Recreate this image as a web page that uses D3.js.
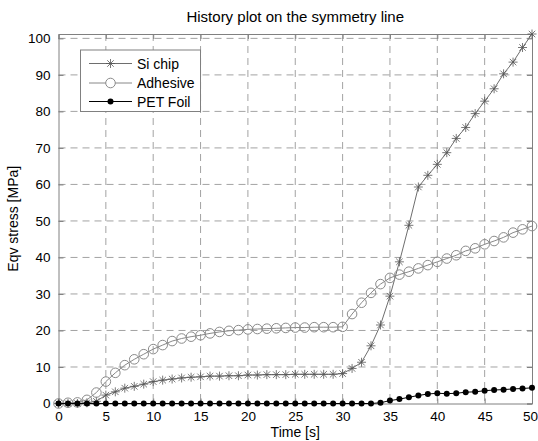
<!DOCTYPE html>
<html><head><meta charset="utf-8">
<script src="https://cdn.jsdelivr.net/npm/d3@7"></script>
<style>body{margin:0;background:#fff}svg{display:block}text{font-family:"Liberation Sans",Arial,sans-serif}</style>
</head><body><svg id="c" width="538" height="441"></svg>
<script>
const time = d3.range(0, 51, 1);
const siChip = [0,0,0,0.2,0.6,2.3,3.2,4.2,4.7,5.3,6.0,6.4,6.7,7.0,7.2,7.3,7.5,7.5,7.6,7.6,7.8,
  7.8,7.9,7.9,7.9,8.0,8.0,8.0,8.0,8.0,8.2,
  9.6,11.3,15.8,21.5,29.4,38.8,48.8,59.3,62.5,65.5,68.7,72.6,75.6,79.4,82.8,86.2,90.3,93.5,97.5,101.2];
const adhesive = [0,0.2,0.3,1.0,3.0,6.0,8.4,10.5,12.1,13.5,14.9,16.0,17.1,17.8,18.3,18.7,19.2,19.6,19.9,20.1,20.3,
  20.4,20.5,20.6,20.7,20.8,20.8,20.9,20.9,20.9,21.0,
  24.5,27.6,30.3,32.7,34.4,35.3,36.1,37.0,37.9,38.8,39.7,40.6,41.8,42.5,43.6,44.5,45.5,46.8,47.7,48.6];
const petFoil = [0,0,0,0,0,0,0,0,0,0,0,0,0,0,0,0,0,0,0,0,0,0,0,0,0,0,0,0,0,0,0,0,0,0,0.2,
  0.8,1.2,1.7,2.2,2.6,2.8,2.7,2.8,3.1,3.2,3.5,3.7,3.8,4.0,4.1,4.3];
const xTicks = d3.range(0, 51, 5);
const yTicks = d3.range(0, 101, 10);
const seriesNames = ["Si chip", "Adhesive", "PET Foil"];
const titleText = "History plot on the symmetry line";
const xLabel = "Time [s]";
const yLabel = "Eqv stress [MPa]";

const FS = "14px", TFS = "13.5px";
const svg = d3.select("#c");
const L = 58.5, R = 532, T = 34, B = 403.5;
const x = d3.scaleLinear().domain([0, 50]).range([L, R]);
const y = d3.scaleLinear().domain([0, 101.2]).range([B, T]);

// grid
const g = svg.append("g");
g.selectAll(".vg").data(xTicks.filter(d => d > 0 && d < 50)).enter().append("line")
  .attr("x1", d => x(d)).attr("x2", d => x(d)).attr("y1", T).attr("y2", B)
  .attr("stroke", "#8c8c8c").attr("stroke-width", 0.8).attr("stroke-dasharray", "7,5");
g.selectAll(".hg").data(yTicks.filter(d => d > 0)).enter().append("line")
  .attr("x1", L).attr("x2", R).attr("y1", d => y(d)).attr("y2", d => y(d))
  .attr("stroke", "#8c8c8c").attr("stroke-width", 0.8).attr("stroke-dasharray", "7,5");

// axes
const axB = d3.axisBottom(x).tickValues(xTicks).tickSize(-5).tickPadding(8);
const axT = d3.axisTop(x).tickValues(xTicks).tickSize(-5).tickFormat("");
const axL = d3.axisLeft(y).tickValues(yTicks).tickSize(-5).tickPadding(8);
const axR = d3.axisRight(y).tickValues(yTicks).tickSize(-5).tickFormat("");
function style(sel){
  sel.selectAll("path").attr("stroke", "#808080");
  sel.selectAll("line").attr("stroke", "#808080");
  sel.selectAll("text").attr("fill", "#000").style("font-size", TFS).style("font-family", '"Liberation Sans",Arial,sans-serif');
}
const gB = svg.append("g").attr("transform", `translate(0,${B})`).call(axB).call(style);
gB.selectAll(".tick text").filter(d => d === 50).attr("dx", "-2");
svg.append("g").attr("transform", `translate(0,${T})`).call(axT).call(style);
svg.append("g").attr("transform", `translate(${L},0)`).call(axL).call(style);
svg.append("g").attr("transform", `translate(${R},0)`).call(axR).call(style);
svg.selectAll(".domain").attr("stroke", "#808080");

const line = d3.line().x((d, i) => x(time[i])).y(d => y(d));
function starPath(cx, cy, r){
  const a = r * 0.72;
  return `M${cx-r},${cy}L${cx+r},${cy}M${cx},${cy-r}L${cx},${cy+r}M${cx-a},${cy-a}L${cx+a},${cy+a}M${cx-a},${cy+a}L${cx+a},${cy-a}`;
}

// Si chip
svg.append("path").datum(siChip).attr("d", line).attr("fill", "none").attr("stroke", "#6e6e6e").attr("stroke-width", 1);
svg.append("g").selectAll("path").data(siChip).enter().append("path")
  .attr("d", (d, i) => starPath(x(time[i]), y(d), 4.5)).attr("stroke", "#555").attr("stroke-width", 0.8).attr("fill", "none");
// Adhesive
svg.append("path").datum(adhesive).attr("d", line).attr("fill", "none").attr("stroke", "#888").attr("stroke-width", 1);
svg.append("g").selectAll("circle").data(adhesive).enter().append("circle")
  .attr("cx", (d, i) => x(time[i])).attr("cy", d => y(d)).attr("r", 4.8)
  .attr("fill", "none").attr("stroke", "#8a8a8a").attr("stroke-width", 1);
// PET foil
svg.append("path").datum(petFoil).attr("d", line).attr("fill", "none").attr("stroke", "#000").attr("stroke-width", 1);
svg.append("g").selectAll("circle").data(petFoil).enter().append("circle")
  .attr("cx", (d, i) => x(time[i])).attr("cy", d => y(d)).attr("r", 3).attr("fill", "#000");

// legend
const lg = svg.append("g");
lg.append("rect").attr("x", 80.5).attr("y", 50).attr("width", 120).attr("height", 61.5)
  .attr("fill", "#fff").attr("stroke", "#808080").attr("stroke-width", 1);
const ly = [63.5, 83, 101.5];
seriesNames.forEach((n, i) => {
  const col = i === 0 ? "#6e6e6e" : (i === 1 ? "#888" : "#000");
  lg.append("line").attr("x1", 89).attr("x2", 132).attr("y1", ly[i]).attr("y2", ly[i]).attr("stroke", col).attr("stroke-width", 1);
  if (i === 0) lg.append("path").attr("d", starPath(110.5, ly[i], 4.5)).attr("stroke", "#555").attr("stroke-width", 0.8);
  if (i === 1) lg.append("circle").attr("cx", 110.5).attr("cy", ly[i]).attr("r", 4.8).attr("fill", "#fff").attr("stroke", "#8a8a8a");
  if (i === 2) lg.append("circle").attr("cx", 110.5).attr("cy", ly[i]).attr("r", 3).attr("fill", "#000");
  lg.append("text").attr("x", 137).attr("y", ly[i]).attr("dy", "0.36em").style("font-size", FS).text(n);
});

// titles
svg.append("text").attr("x", (L + R) / 2).attr("y", 22).attr("text-anchor", "middle").style("font-size", "15px").text(titleText);
svg.append("text").attr("x", (L + R) / 2).attr("y", 437).attr("text-anchor", "middle").style("font-size", FS).text(xLabel);
svg.append("text").attr("transform", `translate(18,${(T + B) / 2}) rotate(-90)`).attr("text-anchor", "middle").style("font-size", FS).text(yLabel);
</script></body></html>
